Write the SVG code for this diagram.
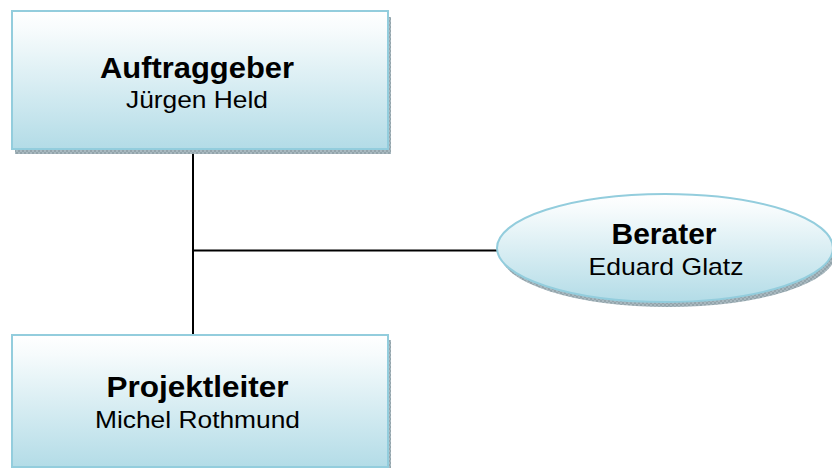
<svg xmlns="http://www.w3.org/2000/svg" width="832" height="468" viewBox="0 0 832 468">
  <defs>
    <linearGradient id="fillGrad" x1="0" y1="0" x2="0" y2="1">
      <stop offset="0" stop-color="#ffffff"/>
      <stop offset="0.15" stop-color="#f6fbfc"/>
      <stop offset="1" stop-color="#b3dce7"/>
    </linearGradient>
    <pattern id="shadowTex" width="4" height="4" patternUnits="userSpaceOnUse">
      <rect width="4" height="4" fill="#a8b8bf"/>
      <rect width="2" height="2" fill="#93a4ab"/>
      <rect x="2" y="2" width="2" height="2" fill="#93a4ab"/>
    </pattern>
  </defs>
  <style>
    .shape { fill: url(#fillGrad); stroke: #93cddd; stroke-width: 2; }
    .shadow { fill: url(#shadowTex); }
    .title { font-family: "Liberation Sans", Arial, sans-serif; font-weight: bold; font-size: 30px; fill: #000; text-anchor: middle; }
    .name { font-family: "Liberation Sans", Arial, sans-serif; font-size: 24px; fill: #000; text-anchor: middle; }
    .link { stroke: #000; stroke-width: 2; fill: none; }
  </style>

  <rect width="832" height="468" fill="#ffffff"/>

  <!-- connectors -->
  <g id="connectors">
    <line class="link" x1="193" y1="152" x2="193" y2="335"/>
    <line class="link" x1="193" y1="250.5" x2="498" y2="250.5" stroke="#1a1a1a"/>
  </g>

  <!-- client -->
  <g id="auftraggeber">
    <rect class="shadow" x="15" y="17" width="376" height="137"/>
    <rect class="shape" x="12" y="11" width="376" height="138"/>
    <text class="title" x="197" y="78" textLength="194" lengthAdjust="spacingAndGlyphs">Auftraggeber</text>
    <text class="name" x="197" y="108" textLength="142" lengthAdjust="spacingAndGlyphs">Jürgen Held</text>
  </g>

  <!-- adviser -->
  <g id="berater">
    <ellipse class="shadow" cx="668" cy="253" rx="168" ry="54"/>
    <ellipse class="shape" cx="665" cy="248" rx="168" ry="54"/>
    <text class="title" x="664" y="244" textLength="105" lengthAdjust="spacingAndGlyphs">Berater</text>
    <text class="name" x="666" y="275" textLength="155" lengthAdjust="spacingAndGlyphs">Eduard Glatz</text>
  </g>

  <!-- project lead -->
  <g id="projektleiter">
    <rect class="shadow" x="15" y="340" width="376" height="134"/>
    <rect class="shape" x="12" y="335" width="376" height="132"/>
    <text class="title" x="197.5" y="397" textLength="182" lengthAdjust="spacingAndGlyphs">Projektleiter</text>
    <text class="name" x="197.5" y="428" textLength="205" lengthAdjust="spacingAndGlyphs">Michel Rothmund</text>
  </g>
</svg>
